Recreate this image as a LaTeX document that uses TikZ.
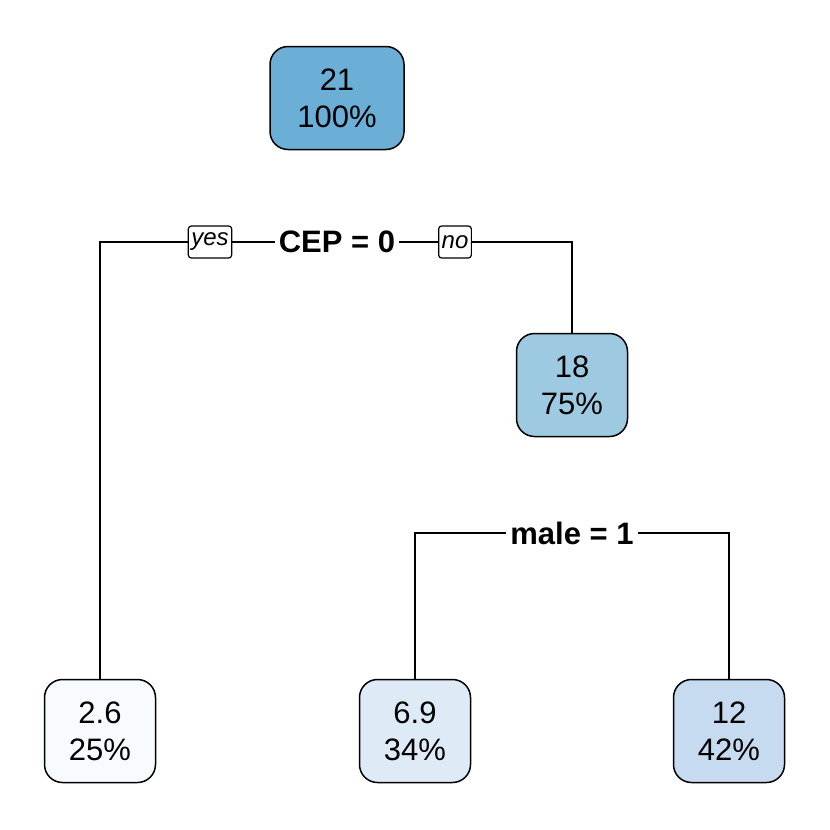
\documentclass[tikz,border=0pt]{standalone}
\usepackage{fontspec}
\setmainfont{Liberation Sans}
\begin{document}
\begin{tikzpicture}[x=1pt,y=-1pt,
  leaf/.style={draw,line width=1.5pt,rounded corners=18pt,minimum width=111pt,minimum height=103pt,align=center,font=\fontsize{31}{37}\selectfont},
  split/.style={fill=white,inner sep=4pt,font=\bfseries\fontsize{31}{37}\selectfont},
  yn/.style={draw,fill=white,line width=1.2pt,rounded corners=3pt,inner sep=3pt,minimum height=32pt,font=\itshape\fontsize{24}{28}\selectfont},
  edge/.style={line width=1.5pt}]
\useasboundingbox (0,0) rectangle (830,830);
\definecolor{c1}{HTML}{6BAED6}
\definecolor{c2}{HTML}{9ECAE1}
\definecolor{c3}{HTML}{F7FBFF}
\definecolor{c4}{HTML}{DEEBF7}
\definecolor{c5}{HTML}{C6DBEF}
\node[leaf,fill=c1,minimum width=134pt] (root) at (337,98) {21\\100\%};
\node[leaf,fill=c2] (n18) at (572,385) {18\\75\%};
\node[leaf,fill=c3] (l1) at (100,731) {2.6\\25\%};
\node[leaf,fill=c4] (l2) at (415,731) {6.9\\34\%};
\node[leaf,fill=c5] (l3) at (729,731) {12\\42\%};
\coordinate (a) at (100,242);
\coordinate (b) at (572,242);
\coordinate (c) at (415,533);
\coordinate (d) at (729,533);
\draw[edge] (l1.north) -- (a) -- (b) -- (n18.north);
\draw[edge] (l2.north) -- (c) -- (d) -- (l3.north);
\node[split] (s1) at (337,242) {CEP = 0};
\node[yn] (yes) at (210,242) {yes};
\node[yn] (no) at (455,242) {no};
\node[split] (s2) at (572,533) {male = 1};
\end{tikzpicture}
\end{document}
